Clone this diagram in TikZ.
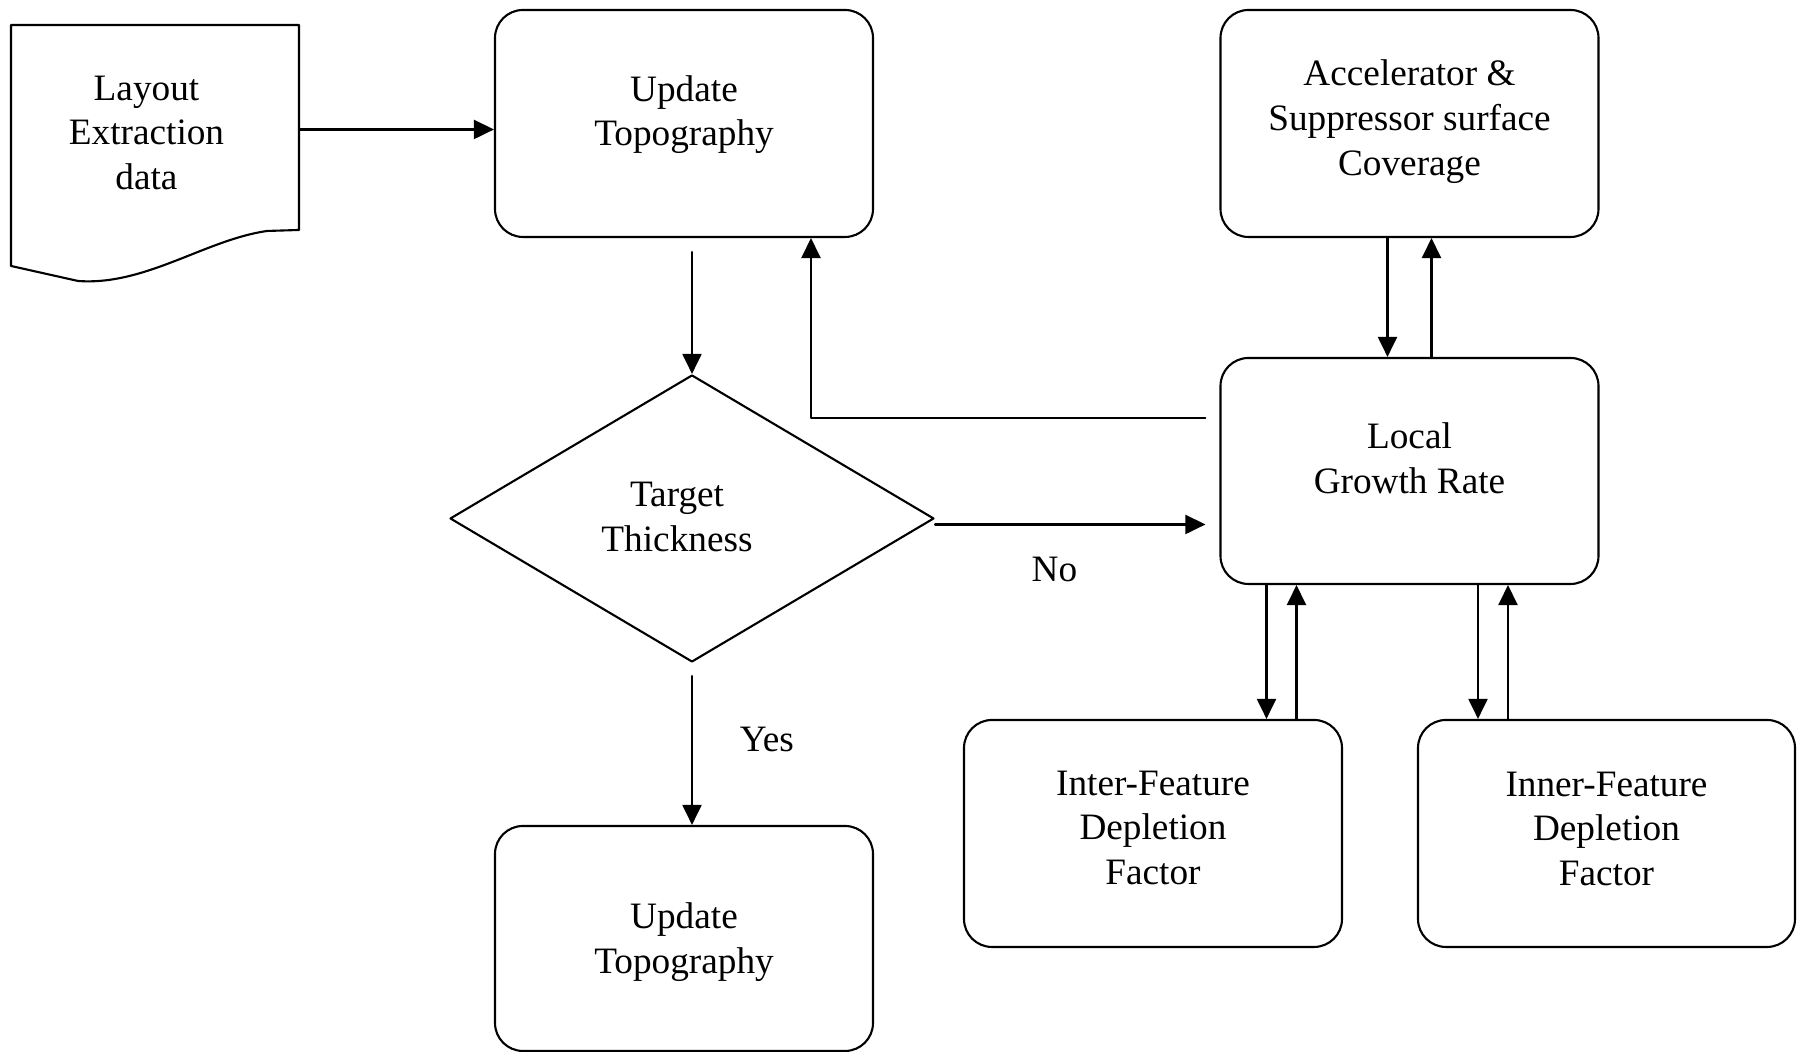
\documentclass[tikz,border=0pt]{standalone}
\usepackage{fontspec}
\setmainfont{Liberation Serif}
\usetikzlibrary{shapes.geometric,arrows.meta}

\begin{document}
\begin{tikzpicture}[line cap=round,line join=round,line width=0.6pt,
  font=\fontsize{10.6}{12.7}\selectfont,>={Triangle[length=2mm,width=1.9mm]},
  block/.style={draw,rounded corners=2.8mm,minimum width=3.78cm,minimum height=2.27cm,align=center},
  decision/.style={draw,diamond,aspect=1.69,minimum width=4.84cm,minimum height=2.87cm,inner sep=0pt}]
\useasboundingbox (0,0) rectangle (17.97,10.52);
% document symbol with wavy bottom edge
\draw (0.11,10.27) -- (2.99,10.27) -- (2.99,8.22) -- (2.67,8.21)
  .. controls (2.05,8.12) and (1.45,7.66) .. (0.78,7.71) -- (0.11,7.86) -- cycle;
\node[minimum width=2.88cm,minimum height=2.05cm,align=center] (layout) at (1.465,9.19) {Layout\\Extraction\\data};
% process boxes
\node[block,text depth=2.6mm] (topo) at (6.84,9.285) {Update\\Topography};
\node[decision] (target) at (6.92,5.335) {};
\node[align=center] (targettext) at (6.77,5.35) {Target\\Thickness};
\node[block,minimum height=2.25cm,text depth=0.1mm] (topo2) at (6.84,1.135) {Update\\Topography};
\node[block,text depth=1.2mm] (accel) at (14.095,9.285) {Accelerator \&\\Suppressor surface\\Coverage};
\node[block,minimum height=2.26cm,text depth=2.6mm] (growth) at (14.095,5.81) {Local\\Growth Rate};
\node[block,text depth=1.2mm] (inter) at (11.53,2.185) {Inter-Feature\\Depletion\\Factor};
\node[block,minimum width=3.77cm,text depth=1mm] (inner) at (16.065,2.185) {Inner-Feature\\Depletion\\Factor};
% main flow
\draw[->] ([yshift=0.35mm]layout.east -| 2.99,0) -- ([yshift=0.35mm]layout.east -| topo.west);
\draw[->,shorten <=1.4mm] (target.north |- topo.south) -- (target.north);
\draw[->,shorten >=1.4mm] ([yshift=-0.6mm]target.east) -- ([yshift=-0.6mm]target.east -| growth.west)
  node[pos=0.42,below=2mm] {No};
\draw[->,shorten <=1.3mm] (target.south) -- (target.south |- topo2.north)
  node[pos=0.47,right=3.5mm] {Yes};
% feedback to the topography update
\draw[->,shorten <=1.4mm] ([yshift=5.3mm]growth.west) -| ([xshift=12.7mm]topo.south);
% coverage loop
\draw[->] ([xshift=-2.2mm]accel.south) -- ([xshift=-2.2mm]growth.north);
\draw[->] ([xshift=2.2mm]growth.north) -- ([xshift=2.2mm]accel.south);
% depletion loops
\draw[->] ([xshift=-14.3mm]growth.south) -- ([xshift=-14.3mm]growth.south |- inter.north);
\draw[->] ([xshift=-11.3mm]growth.south |- inter.north) -- ([xshift=-11.3mm]growth.south);
\draw[->] ([xshift=6.85mm]growth.south) -- ([xshift=6.85mm]growth.south |- inner.north);
\draw[->] ([xshift=9.85mm]growth.south |- inner.north) -- ([xshift=9.85mm]growth.south);
\end{tikzpicture}
\end{document}
